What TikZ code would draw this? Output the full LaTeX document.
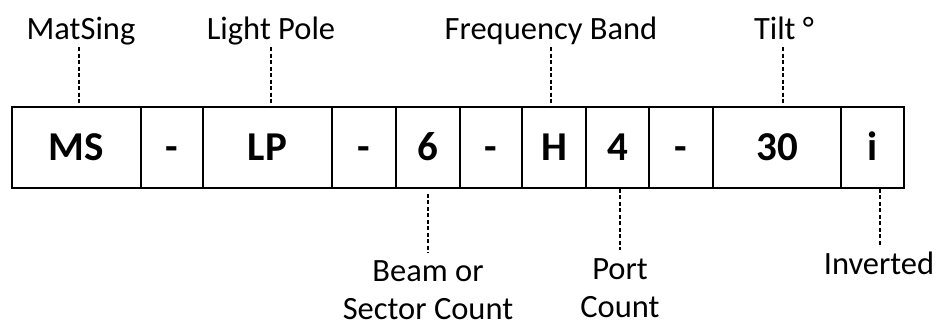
\documentclass[tikz,border=0pt]{standalone}
\usepackage{fontspec}
\setmainfont{Carlito}
\begin{document}
\begin{tikzpicture}[x=1pt,y=-1pt,
  cell/.style={draw=black,line width=1.8pt,minimum height=81pt,inner sep=0pt,
    text height=26.4pt,text depth=0pt,
    font=\fontsize{41}{45}\selectfont\bfseries},
  lab/.style={inner sep=0pt,anchor=base,text depth=7pt,font=\fontsize{32.5}{38}\selectfont},
  blab/.style={inner sep=0pt,anchor=base,align=center,font=\fontsize{32.5}{38}\selectfont},
  conn/.style={line width=1.5pt,dash pattern=on 4pt off 2.5pt}]
\useasboundingbox (0,0) rectangle (940,323);
\fill[white] (0,0) rectangle (940,323);
% cells
\node[cell,minimum width=129pt] (ms) at (76.5,147.5) {MS};
\node[cell,minimum width=62pt] (d1) at (172,147.5) {-};
\node[cell,minimum width=129pt] (lp) at (267.5,147.5) {LP};
\node[cell,minimum width=64pt] (d2) at (364,147.5) {-};
\node[cell,minimum width=64pt] (six) at (428,147.5) {6};
\node[cell,minimum width=62pt] (d3) at (491,147.5) {-};
\node[cell,minimum width=64pt] (h) at (554,147.5) {H};
\node[cell,minimum width=63pt] (four) at (617.5,147.5) {4};
\node[cell,minimum width=64pt] (d4) at (681,147.5) {-};
\node[cell,minimum width=128pt] (thirty) at (777,147.5) {30};
\node[cell,minimum width=63pt] (inv) at (872.5,147.5) {i};
% top labels
\node[lab] (lms) at (81,40) {MatSing};
\node[lab] (llp) at (271,40) {Light Pole};
\node[lab] (lfb) at (551,40) {Frequency Band};
\node[lab] (ltilt) at (784,40) {Tilt °};
\draw[conn] (lms.south -| 79,0) -- (ms.north -| 79,0);
\draw[conn] (llp.south) -- (llp.south |- lp.north);
\draw[conn] (lfb.south) -- (lfb.south |- h.north);
\draw[conn] (ltilt.south -| 783,0) -- (thirty.north -| 783,0);
% bottom labels
\node[blab] (lbeam) at (428,319) {Beam or\\Sector Count};
\node[blab] (lport) at (620,317) {Port\\Count};
\node[lab,text depth=0pt] (linv) at (879,275) {Inverted};
\draw[conn] (six.south) ++(0,5) -- (428,253);
\draw[conn] (four.south -| 620,0) -- (620,250);
\draw[conn] (inv.south -| 880,0) -- (880,247);
\end{tikzpicture}
\end{document}
